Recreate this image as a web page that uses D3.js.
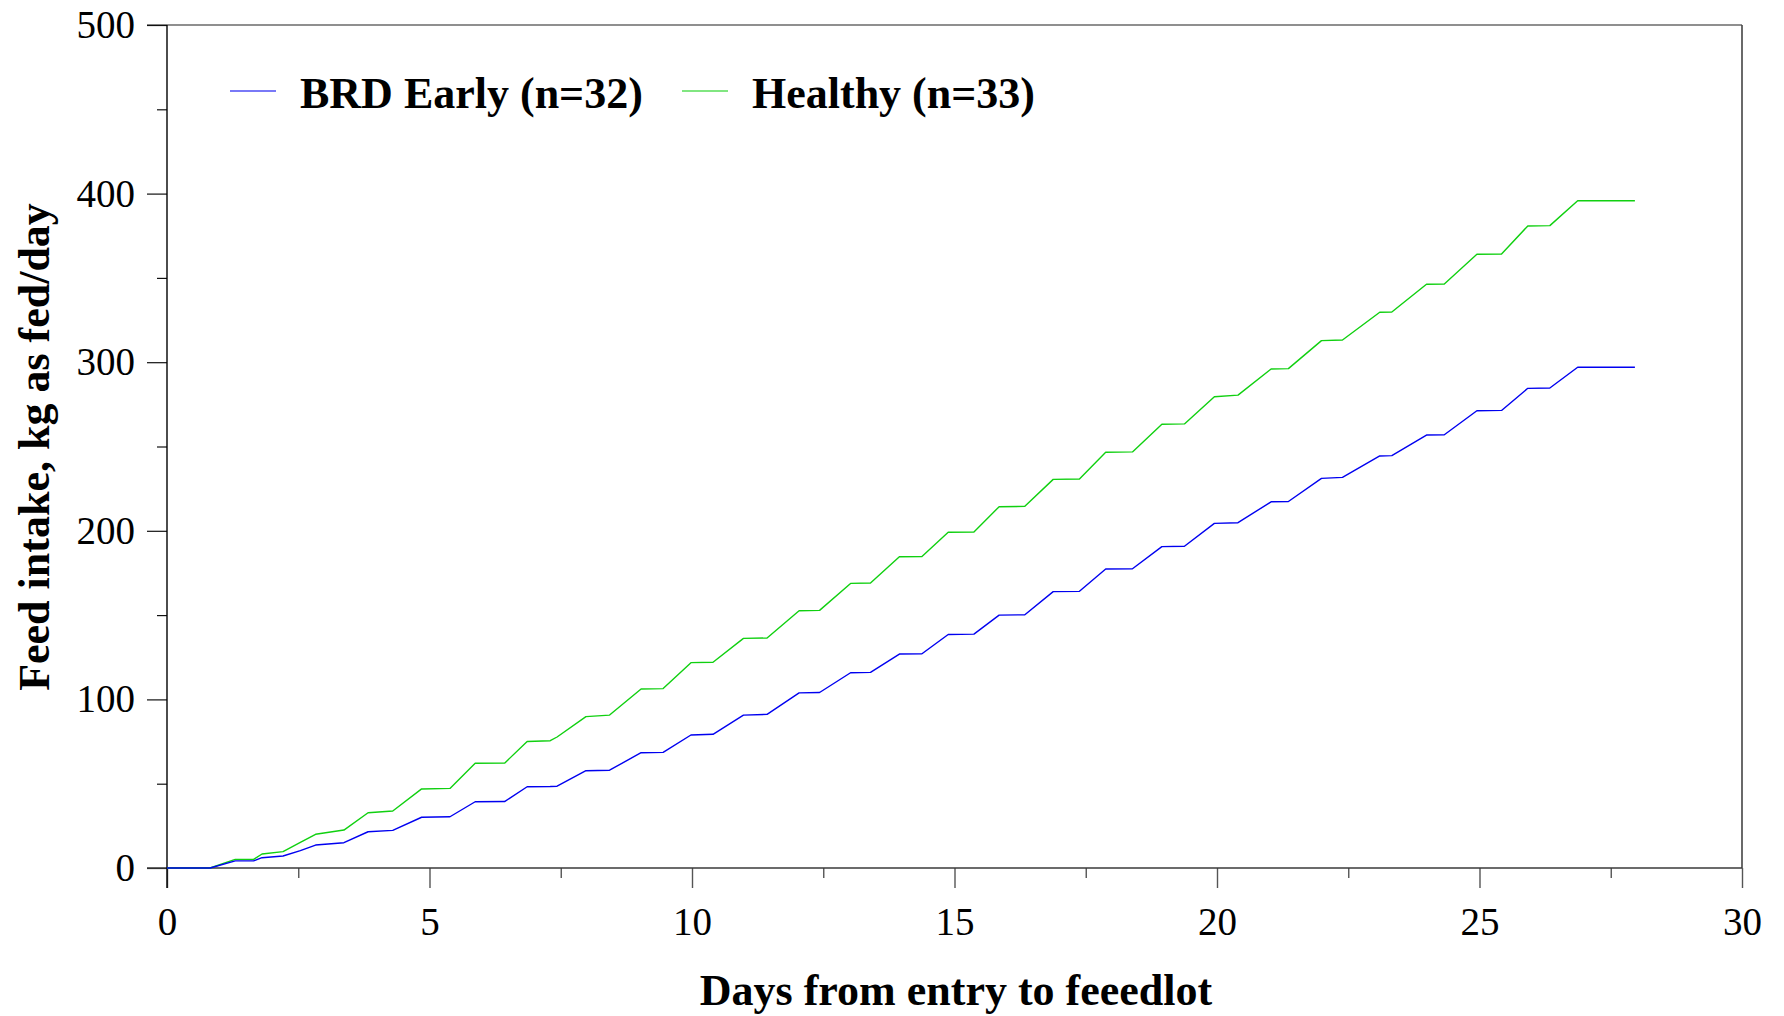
<!DOCTYPE html>
<html>
<head>
<meta charset="utf-8">
<script src="https://cdn.jsdelivr.net/npm/d3@7/dist/d3.min.js"></script>
<style>
  html, body { margin: 0; padding: 0; background: #fff; }
  svg { display: block; }
</style>
</head>
<body>
<script>
// ---- Data ----
const seriesNames = ["BRD Early (n=32)", "Healthy (n=33)"];
const seriesColors = ["#0000f0", "#10d010"];

// Shared time marks (days) at the corners of the daily steps
const dayMarks = [0, 0.82, 1.30, 1.65, 1.81, 2.21, 2.54, 2.83, 3.37, 3.83, 4.30, 4.85, 5.39,
  5.87, 6.43, 6.86, 7.30, 7.43, 7.98, 8.43, 9.03, 9.45, 9.98, 10.40, 10.98, 11.43,
  12.04, 12.43, 13.02, 13.40, 13.95, 14.38, 14.88, 15.37, 15.85, 16.34, 16.88, 17.38,
  17.88, 18.39, 18.95, 19.38, 19.95, 20.40, 21.03, 21.36, 21.99, 22.39, 23.10, 23.33,
  23.99, 24.33, 24.95, 25.42, 25.92, 26.34, 26.87, 27.96];

const brdEarly = [0, 0, 4.2, 4.2, 6.1, 7.1, 10.3, 13.6, 15.0, 21.5, 22.3, 30.1, 30.4,
  39.3, 39.4, 48.2, 48.3, 48.5, 57.7, 58.0, 68.4, 68.6, 78.9, 79.3, 90.7, 91.1,
  103.9, 104.1, 115.8, 116.0, 126.9, 127.1, 138.5, 138.7, 150.0, 150.2, 163.9, 164.1,
  177.3, 177.5, 190.6, 190.8, 204.4, 204.8, 217.2, 217.4, 231.1, 231.7, 244.4, 244.6,
  256.8, 257.0, 271.2, 271.4, 284.5, 284.7, 297.0, 297.0];

const healthy = [0, 0, 5.1, 5.1, 8.3, 9.7, 15.2, 20.0, 22.5, 32.8, 33.8, 46.9, 47.2,
  62.1, 62.2, 75.0, 75.5, 77.7, 89.8, 90.7, 106.2, 106.4, 121.8, 122.0, 136.2, 136.4,
  152.6, 152.8, 168.8, 169.0, 184.6, 184.8, 199.1, 199.3, 214.3, 214.5, 230.5, 230.7,
  246.6, 246.8, 263.2, 263.4, 279.5, 280.5, 296.0, 296.2, 312.8, 313.2, 329.6, 329.8,
  346.2, 346.4, 364.0, 364.2, 380.8, 381.0, 395.8, 395.8];

const xTicks = [0, 5, 10, 15, 20, 25, 30];
const xMinorTicks = [2.5, 7.5, 12.5, 17.5, 22.5, 27.5];
const yTicks = [0, 100, 200, 300, 400, 500];
const yMinorTicks = [50, 150, 250, 350, 450];
const xTitle = "Days from entry to feeedlot";
const yTitle = "Feed intake, kg as fed/day";

// ---- Layout ----
const W = 1784, H = 1016;
const L = 167, R = 1742, T = 25, B = 868;
const serif = "'Liberation Serif', 'Times New Roman', serif";

const svg = d3.select("body").append("svg").attr("width", W).attr("height", H);

const x = d3.scaleLinear().domain([0, 30]).range([L, R]);
const y = d3.scaleLinear().domain([0, 500]).range([B, T]);

// Frame (top and right borders)
svg.append("line").attr("x1", L - 20).attr("x2", R).attr("y1", T).attr("y2", T)
  .attr("stroke", "#6a6a6a").attr("stroke-width", 1.5);
svg.append("line").attr("x1", R).attr("x2", R).attr("y1", T).attr("y2", B)
  .attr("stroke", "#444").attr("stroke-width", 1.6);

// Y axis (major + minor)
const yAxis = svg.append("g").attr("transform", `translate(${L},0)`)
  .call(d3.axisLeft(y).tickValues(yTicks).tickSize(20).tickPadding(12).tickFormat(d3.format("d")));
yAxis.select(".domain").remove();
yAxis.selectAll("line").attr("stroke", "#111").attr("stroke-width", 1.2);
yAxis.selectAll("text").attr("font-family", serif).attr("font-size", 39).attr("fill", "#000");

const yMinor = svg.append("g").attr("transform", `translate(${L},0)`)
  .call(d3.axisLeft(y).tickValues(yMinorTicks).tickSize(10).tickFormat(""));
yMinor.select(".domain").remove();
yMinor.selectAll("line").attr("stroke", "#111").attr("stroke-width", 1.2);

// X axis (major + minor)
const xAxis = svg.append("g").attr("transform", `translate(0,${B})`)
  .call(d3.axisBottom(x).tickValues(xTicks).tickSize(20).tickPadding(19).tickFormat(d3.format("d")));
xAxis.select(".domain").remove();
xAxis.selectAll("line").attr("stroke", "#555").attr("stroke-width", 1.4);
xAxis.selectAll("text").attr("font-family", serif).attr("font-size", 39).attr("fill", "#000");

const xMinor = svg.append("g").attr("transform", `translate(0,${B})`)
  .call(d3.axisBottom(x).tickValues(xMinorTicks).tickSize(10).tickFormat(""));
xMinor.select(".domain").remove();
xMinor.selectAll("line").attr("stroke", "#555").attr("stroke-width", 1.4);

// Axis lines
svg.append("line").attr("x1", L - 20).attr("x2", R).attr("y1", B).attr("y2", B)
  .attr("stroke", "#3a3a3a").attr("stroke-width", 1.6);
svg.append("line").attr("x1", L).attr("x2", L).attr("y1", T).attr("y2", B + 20)
  .attr("stroke", "#000").attr("stroke-width", 1.4);

// Lines
const line = d3.line().x(d => x(d[0])).y(d => y(d[1])).curve(d3.curveLinear);
const seriesData = [brdEarly, healthy];
// draw healthy first, BRD on top (overlap at zero appears dark)
[1, 0].forEach(i => {
  const pts = dayMarks.map((t, k) => [t, seriesData[i][k]]);
  svg.append("path").datum(pts)
    .attr("d", line)
    .attr("fill", "none")
    .attr("stroke", seriesColors[i])
    .attr("stroke-width", 1.4)
    .attr("stroke-linejoin", "round");
});

// Legend
const legendItems = [
  { name: seriesNames[0], color: seriesColors[0], lx: 230, tx: 300 },
  { name: seriesNames[1], color: seriesColors[1], lx: 682, tx: 752 }
];
legendItems.forEach(it => {
  svg.append("line").attr("x1", it.lx).attr("x2", it.lx + 46).attr("y1", 91).attr("y2", 91)
    .attr("stroke", it.color).attr("stroke-width", 1.4).attr("stroke-opacity", 0.7);
  svg.append("text").attr("x", it.tx).attr("y", 108)
    .attr("font-family", serif).attr("font-weight", "bold").attr("font-size", 44)
    .attr("fill", "#000").text(it.name);
});

// Axis titles
svg.append("text").attr("x", 956).attr("y", 1005).attr("text-anchor", "middle")
  .attr("font-family", serif).attr("font-weight", "bold").attr("font-size", 44)
  .attr("fill", "#000").text(xTitle);
svg.append("text").attr("transform", "translate(49,447) rotate(-90)").attr("text-anchor", "middle")
  .attr("font-family", serif).attr("font-weight", "bold").attr("font-size", 44)
  .attr("fill", "#000").text(yTitle);
</script>
</body>
</html>
